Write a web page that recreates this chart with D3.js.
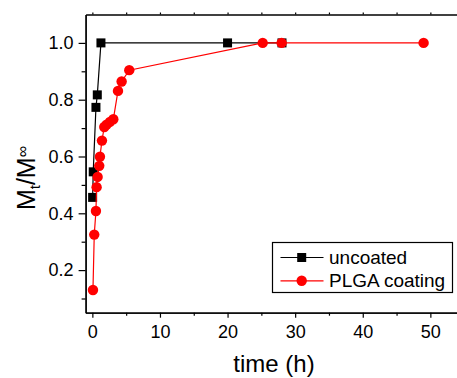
<!DOCTYPE html>
<html>
<head>
<meta charset="utf-8">
<script src="https://cdn.jsdelivr.net/npm/d3@7/dist/d3.min.js"></script>
<style>
  body { margin: 0; background: #fff; }
  svg { display: block; font-family: "Liberation Sans", Arial, sans-serif; }
</style>
</head>
<body>
<div id="chart"></div>
<script>
// uncoated (black squares)
const uncoatedTime = [0.04, 0.13, 0.53, 0.73, 1.27, 20.0, 28.05];
const uncoatedFrac = [0.456, 0.546, 0.773, 0.817, 1.0, 1.0, 1.0];

// PLGA coating (red circles)
const plgaTime = [0.09, 0.28, 0.53, 0.63, 0.78, 1.02, 1.12, 1.42, 1.76, 2.1, 2.6, 3.1, 3.79, 4.33, 5.46, 25.2, 28.0, 49.0];
const plgaFrac = [0.130, 0.325, 0.408, 0.492, 0.528, 0.567, 0.599, 0.656, 0.704, 0.712, 0.722, 0.731, 0.831, 0.864, 0.904, 1.0, 1.0, 1.0];

const xTicks = [0, 10, 20, 30, 40, 50];
const yTicks = [0.2, 0.4, 0.6, 0.8, 1.0];
const seriesNames = ['uncoated', 'PLGA coating'];

const W = 457, H = 378;
const svg = d3.select('#chart').append('svg')
  .attr('width', W).attr('height', H);

const x = d3.scaleLinear().domain([-1, 55]).range([85.6, 85.6 + 56 * 6.76]);
const y = d3.scaleLinear().domain([0.05, 1.1]).range([312.7, 14.5]);

const axisStyle = g => {
  g.selectAll('path.domain').attr('stroke', '#000').attr('stroke-width', 1.3);
  g.selectAll('line').attr('stroke', '#000').attr('stroke-width', 1.2);
  g.selectAll('text').attr('fill', '#000').attr('font-size', '18px')
    .attr('font-family', '"Liberation Sans", Arial, sans-serif');
};

// bottom axis, minor ticks
svg.append('g')
  .attr('transform', `translate(0,${y(0.05)})`)
  .call(d3.axisBottom(x).tickValues(d3.range(5, 56, 10)).tickSize(3).tickFormat('').tickSizeOuter(0))
  .call(axisStyle);
// bottom axis, major ticks
svg.append('g')
  .attr('transform', `translate(0,${y(0.05)})`)
  .call(d3.axisBottom(x).tickValues(xTicks).tickSize(5).tickPadding(8).tickSizeOuter(0).tickFormat(d3.format('d')))
  .call(axisStyle);

// top axis (ticks only)
svg.append('g')
  .attr('transform', `translate(0,${y(1.1)})`)
  .call(d3.axisTop(x).tickValues(d3.range(0, 56, 5)).tickSize(2).tickFormat('').tickSizeOuter(0))
  .call(axisStyle);

// left axis minor
svg.append('g')
  .attr('transform', `translate(${x(-1)},0)`)
  .call(d3.axisLeft(y).tickValues([0.1, 0.3, 0.5, 0.7, 0.9]).tickSize(4).tickFormat('').tickSizeOuter(0))
  .call(axisStyle);
// left axis major
svg.append('g')
  .attr('transform', `translate(${x(-1)},0)`)
  .call(d3.axisLeft(y).tickValues(yTicks).tickSize(7).tickPadding(5).tickSizeOuter(0).tickFormat(d3.format('.1f')))
  .call(axisStyle);

// axis titles
svg.append('text')
  .attr('x', 274).attr('y', 372)
  .attr('text-anchor', 'middle')
  .attr('font-size', '24px')
  .text('time (h)');

const yl = svg.append('text')
  .attr('transform', 'translate(35,178) rotate(-90)')
  .attr('text-anchor', 'middle')
  .attr('font-size', '25px');
yl.append('tspan').text('M');
yl.append('tspan').attr('font-size', '15px').attr('dy', 5).text('t');
yl.append('tspan').attr('dy', -5).text('/M');
yl.append('tspan').attr('font-size', '16px').attr('dy', -7).text('∞');

// series
const uncoated = uncoatedTime.map((t, i) => ({ t, v: uncoatedFrac[i] }));
const plga = plgaTime.map((t, i) => ({ t, v: plgaFrac[i] }));

const line = d3.line().x(d => x(d.t)).y(d => y(d.v));

svg.append('path').datum(uncoated)
  .attr('d', line).attr('fill', 'none').attr('stroke', '#000').attr('stroke-width', 1.2);
svg.append('g').selectAll('rect').data(uncoated).join('rect')
  .attr('x', d => x(d.t) - 4.5).attr('y', d => y(d.v) - 4.5)
  .attr('width', 9).attr('height', 9).attr('fill', '#000');

svg.append('path').datum(plga)
  .attr('d', line).attr('fill', 'none').attr('stroke', '#ff0000').attr('stroke-width', 1.2);
svg.append('g').selectAll('circle').data(plga).join('circle')
  .attr('cx', d => x(d.t)).attr('cy', d => y(d.v))
  .attr('r', 5.2).attr('fill', '#ff0000');

// legend
const legend = svg.append('g');
legend.append('rect')
  .attr('x', 272.5).attr('y', 242.5).attr('width', 180).attr('height', 50)
  .attr('fill', '#fff').attr('stroke', '#000').attr('stroke-width', 1.2);

seriesNames.forEach((name, i) => {
  const row = legend.append('g').attr('transform', `translate(0,${257.5 + i * 23.3})`);
  const col = i === 0 ? '#000' : '#ff0000';
  row.append('line').attr('x1', 280.5).attr('x2', 323.5).attr('y1', 0).attr('y2', 0)
    .attr('stroke', col).attr('stroke-width', 1.2);
  if (i === 0) {
    row.append('rect').attr('x', 301.7 - 4.5).attr('y', -4.5).attr('width', 9).attr('height', 9).attr('fill', col);
  } else {
    row.append('circle').attr('cx', 301.7).attr('cy', 0).attr('r', 5.2).attr('fill', col);
  }
  row.append('text').attr('x', 329).attr('y', 6.5).attr('font-size', '19px').text(name);
});
</script>
</body>
</html>
